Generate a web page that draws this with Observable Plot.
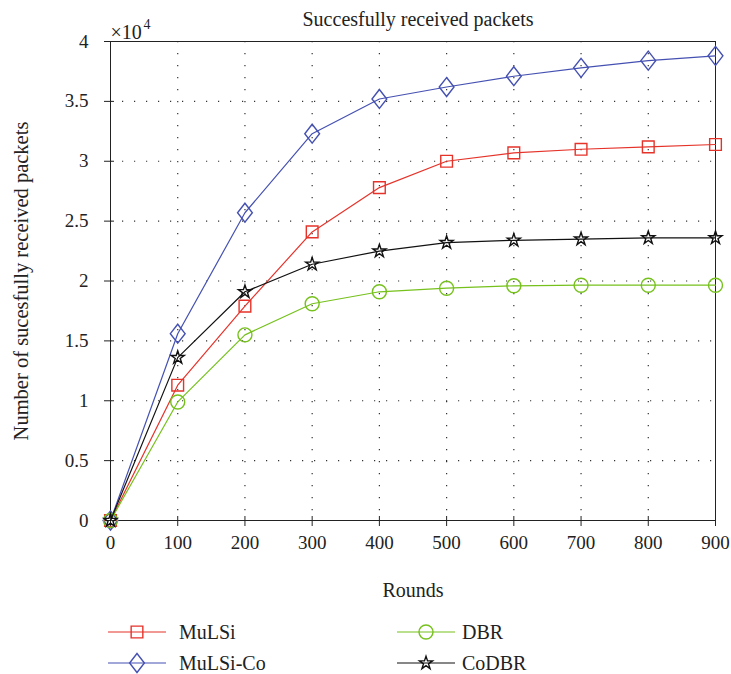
<!DOCTYPE html>
<html><head><meta charset="utf-8">
<script src="https://cdn.jsdelivr.net/npm/d3@7"></script>
<script src="https://cdn.jsdelivr.net/npm/@observablehq/plot@0.6"></script>
<style>
body{margin:0;background:#fff;font-family:"Liberation Serif",serif;}
#chart svg{display:block}
#legend{position:relative;height:59px;width:731px;}
.sw{position:absolute;}
.lab{position:absolute;font-size:20px;color:#222;line-height:30px;height:30px;white-space:nowrap}
</style></head><body>
<div id="chart"></div>
<div id="legend"></div>
<script>
// ---- data ----
const rounds = [0, 100, 200, 300, 400, 500, 600, 700, 800, 900];
const mulsi   = [0, 11300, 17900, 24100, 27800, 30000, 30700, 31000, 31200, 31400];
const mulsiCo = [0, 15600, 25700, 32300, 35200, 36200, 37100, 37800, 38400, 38800];
const dbr     = [0,  9900, 15500, 18100, 19100, 19400, 19600, 19650, 19650, 19650];
const codbr   = [0, 13600, 19100, 21400, 22500, 23200, 23400, 23500, 23600, 23600];
const seriesNames = ["MuLSi", "MuLSi-Co", "DBR", "CoDBR"];
const xTicks = [0, 100, 200, 300, 400, 500, 600, 700, 800, 900];
const yTicks = [0, 5000, 10000, 15000, 20000, 25000, 30000, 35000, 40000];
const titleText = "Succesfully received packets";
const xLabel = "Rounds";
const yLabel = "Number of sucesfully received packets";

// ---- styling ----
const tallDiamond = {
  draw(ctx, size) {
    const h = Math.sqrt(size) * 0.85, w = h * 0.78;
    ctx.moveTo(0, -h); ctx.lineTo(w, 0); ctx.lineTo(0, h); ctx.lineTo(-w, 0); ctx.closePath();
  }
};
const styles = {
  "MuLSi":    {values: mulsi,   color: "#e5332a", symbol: d3.symbolSquare, r: 6.6},
  "MuLSi-Co": {values: mulsiCo, color: "#4551b2", symbol: tallDiamond,     r: 6.3},
  "DBR":      {values: dbr,     color: "#76c11c", symbol: d3.symbolCircle, r: 7},
  "CoDBR":    {values: codbr,   color: "#111111", symbol: d3.symbolStar,   r: 4.1}
};

const table = seriesNames.flatMap(name =>
  rounds.map((r, i) => ({round: r, value: styles[name].values[i], series: name})));

const W = 731, H = 615;
const inX = 4 * 900 / (731 - 110 - 16);
const inY = 4 * 40000 / (H - 41 - 95);
const gridXs = xTicks.slice(1, -1);
const gridYs = yTicks.slice(1, -1);

const seriesMarks = seriesNames.flatMap(name => {
  const s = styles[name];
  const d = table.filter(t => t.series === name);
  return [
    Plot.line(d, {x: "round", y: "value", stroke: s.color, strokeWidth: 1.2}),
    Plot.dot(d, {x: "round", y: "value", stroke: s.color, symbol: s.symbol, r: s.r, fill: "none", strokeWidth: 1.4})
  ];
});

const chart = Plot.plot({
  width: W, height: H,
  marginTop: 41, marginBottom: 95, marginLeft: 110, marginRight: 16,
  style: {fontFamily: "Liberation Serif", fontSize: "19px", color: "#222", background: "#fff"},
  x: {domain: [0, 900]},
  y: {domain: [0, 40000]},
  marks: [
    Plot.gridX(gridXs, {stroke: "#333", strokeOpacity: 1, strokeWidth: 1.2, strokeDasharray: "1.2,10.8"}),
    Plot.gridY(gridYs, {stroke: "#333", strokeOpacity: 1, strokeWidth: 1.2, strokeDasharray: "1.2,10.8"}),
    Plot.frame({stroke: "#222"}),
    Plot.axisX(xTicks, {tickSize: 6, tickPadding: 9, label: null}),
    Plot.axisY(yTicks, {tickSize: 6, tickPadding: 16, label: null, tickFormat: d => String(d / 10000)}),
    Plot.ruleX(xTicks, {y1: 0, y2: inY, stroke: "#222"}),
    Plot.ruleY(yTicks, {x1: 0, x2: inX, stroke: "#222"}),
    ...seriesMarks,
    Plot.text([titleText], {frameAnchor: "top", lineAnchor: "middle", dy: -22, dx: 5, fontSize: 20, fill: "#222"}),
    Plot.text(["×10"], {frameAnchor: "top-left", lineAnchor: "middle", textAnchor: "start", dy: -9, dx: 0, fontSize: 20, fill: "#222"}),
    Plot.text(["4"], {frameAnchor: "top-left", lineAnchor: "middle", textAnchor: "start", dy: -17, dx: 33, fontSize: 14, fill: "#222"}),
    Plot.text([yLabel], {frameAnchor: "left", textAnchor: "middle", lineAnchor: "middle", rotate: -90, dx: -89, fontSize: 20.5, fill: "#222"}),
    Plot.text([xLabel], {frameAnchor: "bottom", lineAnchor: "middle", dy: 70, fontSize: 20, fill: "#222"})
  ]
});
document.getElementById("chart").appendChild(chart);

// ---- legend ----
const legend = document.getElementById("legend");
const legendPos = {
  "MuLSi":    {x: 108, y: 2,  tx: 179},
  "MuLSi-Co": {x: 108, y: 33, tx: 179},
  "DBR":      {x: 397, y: 2,  tx: 462},
  "CoDBR":    {x: 397, y: 33, tx: 462}
};
seriesNames.forEach(name => {
  const s = styles[name], p = legendPos[name];
  const svg = d3.create("svg").attr("class", "sw").attr("width", 58).attr("height", 30)
    .style("left", p.x + "px").style("top", p.y + "px");
  svg.append("line").attr("x1", 0).attr("x2", 58).attr("y1", 15).attr("y2", 15)
    .attr("stroke", s.color).attr("stroke-width", 1.2);
  svg.append("path").attr("transform", "translate(29,15)")
    .attr("d", d3.symbol(s.symbol, Math.PI * s.r * s.r)())
    .attr("fill", "none").attr("stroke", s.color).attr("stroke-width", 1.4);
  legend.appendChild(svg.node());
  const t = document.createElement("div");
  t.className = "lab";
  t.style.left = p.tx + "px";
  t.style.top = p.y + "px";
  t.textContent = name;
  legend.appendChild(t);
});
</script>
</body></html>
